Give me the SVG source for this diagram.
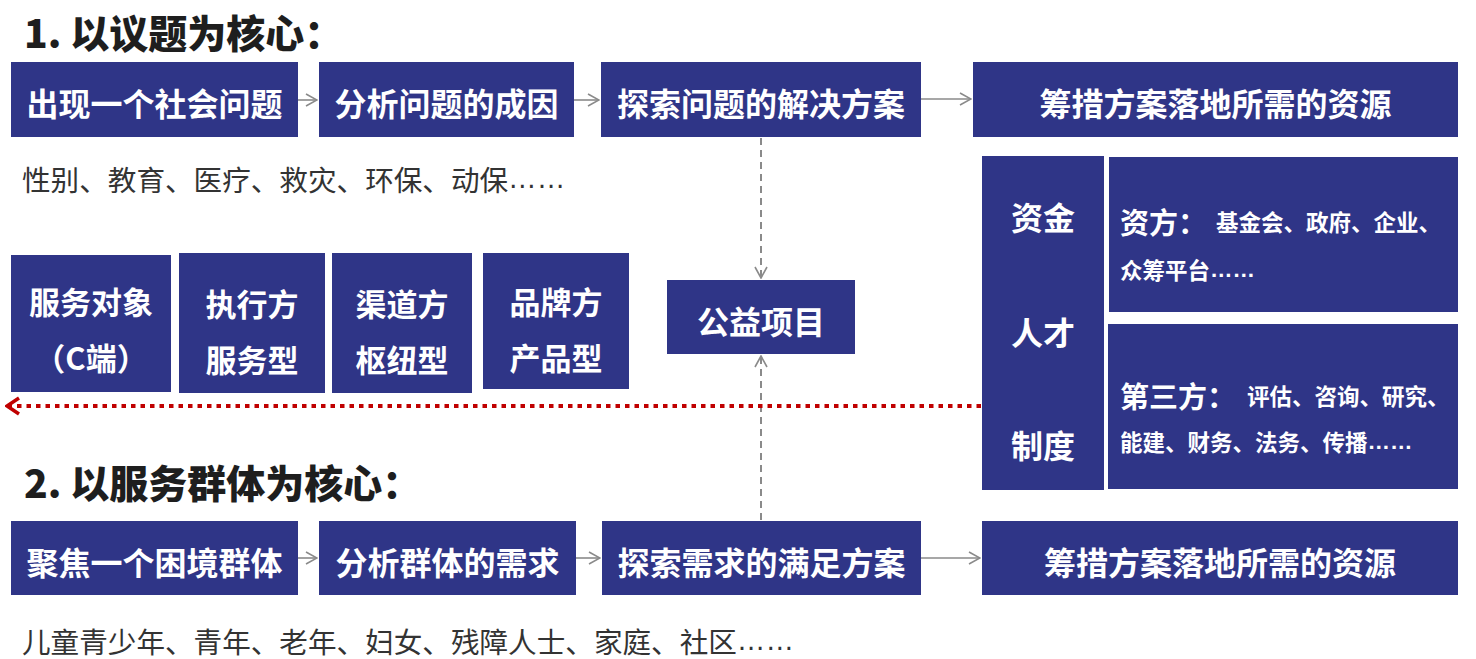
<svg xmlns="http://www.w3.org/2000/svg" width="1476" height="659" viewBox="0 0 1476 659">
<style>
text{font-family:"Noto Sans CJK SC","Noto Sans CJK JP",sans-serif}
.el{font-family:"Liberation Sans","Noto Sans CJK SC",sans-serif}
.box{fill:#2f3587}
.bt{fill:#fff;font-weight:700;font-size:32px;text-anchor:middle;dominant-baseline:central}
.mt{fill:#fff;font-weight:700;font-size:31px;text-anchor:middle;dominant-baseline:central}
.title{fill:#1e1e1e;font-weight:900;font-size:39px;dominant-baseline:central}
.sub{fill:#333;font-weight:400;font-size:28.6px;dominant-baseline:central}
.rh{fill:#fff;font-weight:700;font-size:29px;dominant-baseline:central}
.rs{fill:#fff;font-weight:700;font-size:22.5px;dominant-baseline:central}
.ga{stroke:#8a8a8a;stroke-width:1.6;fill:none}
.gd{stroke:#8a8a8a;stroke-width:2;fill:none;stroke-dasharray:7 5}
.rd{stroke:#c00000;stroke-width:4;fill:none;stroke-dasharray:4.5 5}
</style>
<defs>
<marker id="ah" viewBox="0 0 13 14" refX="12" refY="7" markerWidth="13" markerHeight="14" markerUnits="userSpaceOnUse" orient="auto">
<path d="M1,1 L12,7 L1,13" fill="none" stroke="#8a8a8a" stroke-width="1.6"/>
</marker>
<marker id="rh" viewBox="0 0 16 20" refX="15" refY="10" markerWidth="16" markerHeight="20" markerUnits="userSpaceOnUse" orient="auto">
<path d="M2,2 L14,10 L2,18" fill="none" stroke="#c00000" stroke-width="3.5"/>
</marker>
</defs>

<text class="title" x="24" y="31">1. 以议题为核心：</text>
<text class="title" x="24" y="481">2. 以服务群体为核心：</text>

<g id="connectors">
<line class="ga" x1="298" y1="100" x2="317" y2="100" marker-end="url(#ah)"/>
<line class="ga" x1="574" y1="100" x2="599" y2="100" marker-end="url(#ah)"/>
<line class="ga" x1="921" y1="99" x2="971" y2="99" marker-end="url(#ah)"/>
<line class="ga" x1="298" y1="558" x2="317" y2="558" marker-end="url(#ah)"/>
<line class="ga" x1="576" y1="558" x2="600" y2="558" marker-end="url(#ah)"/>
<line class="ga" x1="921" y1="558" x2="980" y2="558" marker-end="url(#ah)"/>
<line class="gd" x1="761" y1="138" x2="761" y2="278" marker-end="url(#ah)"/>
<line class="gd" x1="761" y1="520" x2="761" y2="356" marker-end="url(#ah)"/>
<line class="rd" x1="981" y1="406" x2="6" y2="406" marker-end="url(#rh)"/>
</g>

<g id="n1"><rect class="box" x="11" y="62" width="287" height="75"/><text class="bt" x="154.5" y="102">出现一个社会问题</text></g>
<g id="n2"><rect class="box" x="319" y="62" width="255" height="75"/><text class="bt" x="446.5" y="102">分析问题的成因</text></g>
<g id="n3"><rect class="box" x="601" y="62" width="320" height="75"/><text class="bt" x="761" y="102">探索问题的解决方案</text></g>
<g id="n4"><rect class="box" x="973" y="62" width="485" height="75"/><text class="bt" x="1215.5" y="102">筹措方案落地所需的资源</text></g>

<text class="sub" x="22" y="178">性别、教育、医疗、救灾、环保、动保<tspan class="el">……</tspan></text>

<g id="m1"><rect class="box" x="11" y="255" width="160" height="137"/><text class="mt" x="91" y="300">服务对象</text><text class="mt" x="91" y="356">（C端）</text></g>
<g id="m2"><rect class="box" x="179" y="253" width="146" height="140"/><text class="mt" x="252" y="302">执行方</text><text class="mt" x="252" y="358">服务型</text></g>
<g id="m3"><rect class="box" x="332" y="253" width="140" height="140"/><text class="mt" x="402" y="302">渠道方</text><text class="mt" x="402" y="358">枢纽型</text></g>
<g id="m4"><rect class="box" x="483" y="253" width="146" height="136"/><text class="mt" x="556" y="300">品牌方</text><text class="mt" x="556" y="356">产品型</text></g>

<g id="gy"><rect class="box" x="667" y="280" width="188" height="74"/><text class="bt" x="761" y="320">公益项目</text></g>

<g id="res"><rect class="box" x="982" y="156" width="122" height="334"/>
<text class="bt" x="1043" y="216">资金</text>
<text class="bt" x="1043" y="331">人才</text>
<text class="bt" x="1043" y="444">制度</text></g>

<g id="zf"><rect class="box" x="1109" y="157" width="349" height="155"/>
<text x="1120" y="221"><tspan class="rh">资方：</tspan><tspan class="rs" x="1216">基金会、政府、企业、</tspan></text>
<text class="rs" x="1120" y="269">众筹平台<tspan class="el">……</tspan></text></g>

<g id="dsf"><rect class="box" x="1108" y="324" width="350" height="165"/>
<text x="1120" y="395"><tspan class="rh">第三方：</tspan><tspan class="rs" x="1247">评估、咨询、研究、</tspan></text>
<text class="rs" x="1120" y="441">能建、财务、法务、传播<tspan class="el">……</tspan></text></g>

<g id="b1"><rect class="box" x="11" y="521" width="287" height="74"/><text class="bt" x="154.5" y="561">聚焦一个困境群体</text></g>
<g id="b2"><rect class="box" x="319" y="521" width="257" height="74"/><text class="bt" x="447.5" y="561">分析群体的需求</text></g>
<g id="b3"><rect class="box" x="602" y="521" width="319" height="74"/><text class="bt" x="761.5" y="561">探索需求的满足方案</text></g>
<g id="b4"><rect class="box" x="982" y="521" width="476" height="74"/><text class="bt" x="1220" y="561">筹措方案落地所需的资源</text></g>

<text class="sub" x="22" y="640">儿童青少年、青年、老年、妇女、残障人士、家庭、社区<tspan class="el">……</tspan></text>
</svg>
